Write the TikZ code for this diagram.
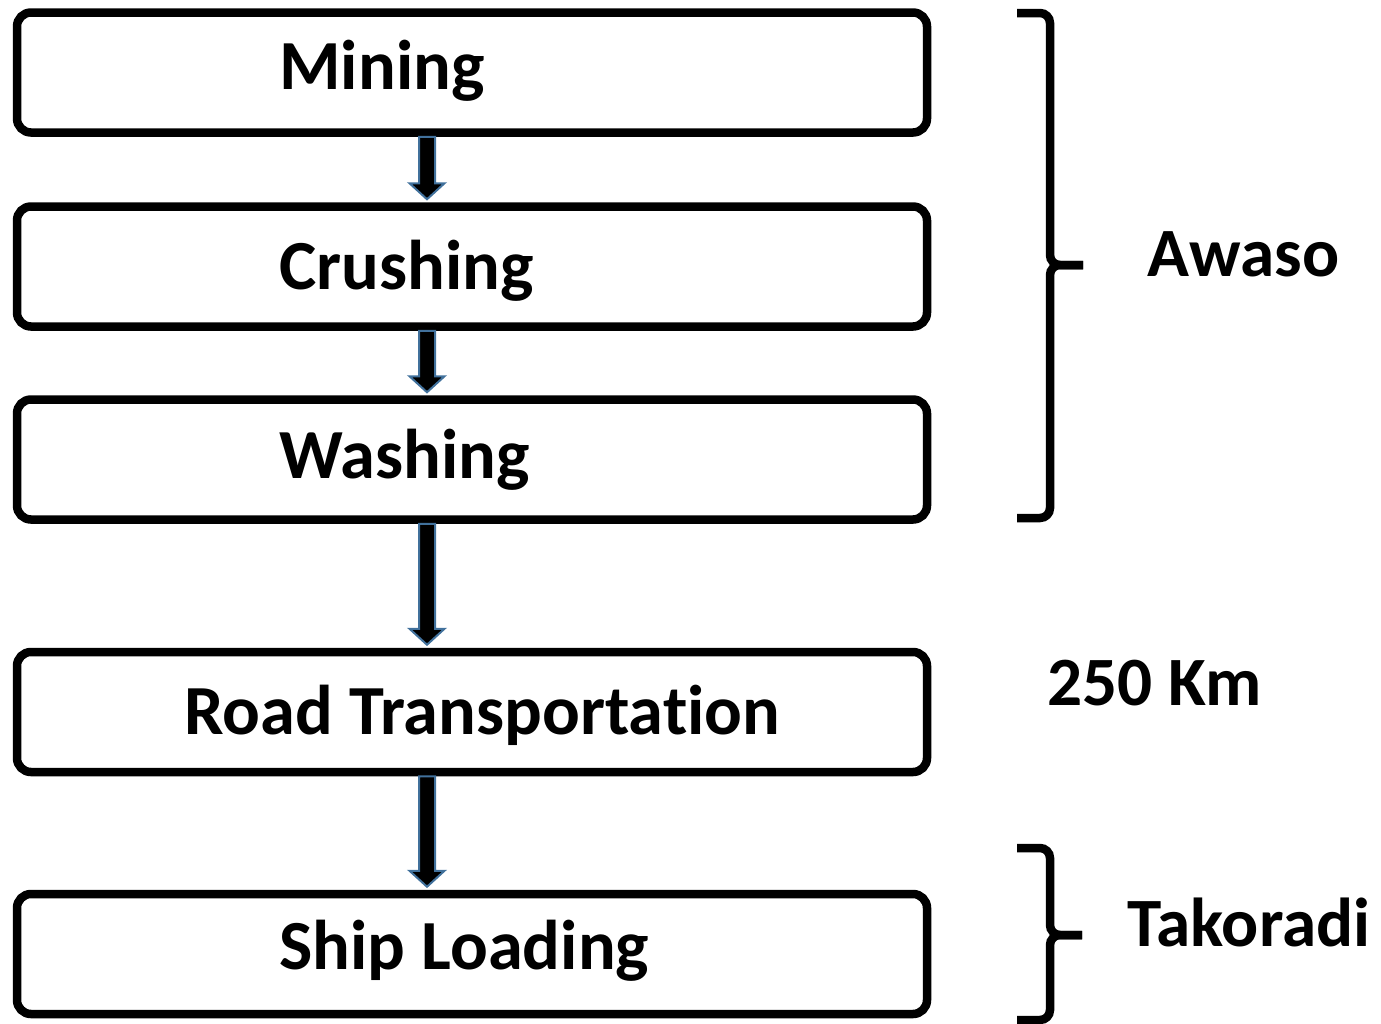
\documentclass[tikz,border=0pt]{standalone}
\usepackage{fontspec}
\setmainfont{Carlito}[Ligatures=NoCommon]
\usetikzlibrary{calc}
\definecolor{arrowblue}{HTML}{41719C}

% block arrow from the bottom of one box to the top of the next
\newcommand{\stagearrow}[2]{%
  \path (axis |- #1.south) coordinate (arrfrom) (axis |- #2.north) coordinate (arrto);
  \draw[flowarrow] let \p1=(arrfrom), \p2=(arrto) in
    (\x1-4pt,\y1) -- (\x1+4pt,\y1) -- (\x1+4pt,\y2+9.5pt) -- (\x1+8.75pt,\y2+9.5pt)
    -- (\x1,\y2+1.5pt) -- (\x1-8.75pt,\y2+9.5pt) -- (\x1-4pt,\y2+9.5pt) -- cycle;}

\begin{document}
\begin{tikzpicture}[x=0.5pt,y=-0.5pt,
    stagebox/.style={draw,line width=4.25pt,rounded corners=7pt,minimum width=455pt,minimum height=60pt,inner sep=0pt},
    stagetext/.style={anchor=base west,inner sep=0pt,font=\fontsize{35.2pt}{40pt}\selectfont\bfseries},
    sitetext/.style={anchor=base west,inner sep=0pt,font=\fontsize{34.6pt}{40pt}\selectfont\bfseries},
    flowarrow/.style={draw=arrowblue,fill=black,line width=1pt,line join=miter},
    bracket/.style={line width=4.25pt,rounded corners=5pt}]
    \useasboundingbox (0,0) rectangle (1381,1023);

    % Draw process boxes
    \node[stagebox] (mining) at (472,72.5) {};
    \node[stagebox] (crushing) at (472,266.5) {};
    \node[stagebox] (washing) at (472,459.5) {};
    \node[stagebox] (road) at (472,712) {};
    \node[stagebox] (ship) at (472,954) {};

    % Draw box labels
    \node[stagetext] (miningtext) at (279,89) {Mining};
    \node[stagetext] (crushingtext) at (279,289) {Crushing};
    \node[stagetext] (washingtext) at (279,478) {Washing};
    \node[stagetext] (roadtext) at (184,734) {Road Transportation};
    \node[stagetext] (shiptext) at (279,969) {Ship Loading};

    % Draw arrows
    \coordinate (axis) at (427,0);
    \stagearrow{mining}{crushing}
    \stagearrow{crushing}{washing}
    \stagearrow{washing}{road}
    \stagearrow{road}{ship}

    % Draw brackets
    \draw[bracket] (1017,13) -- (1050,13) -- (1050,265) -- (1083,265);
    \draw[bracket] (1083,265) -- (1050,265) -- (1050,518) -- (1017,518);
    \draw[bracket] (1017,848) -- (1050,848) -- (1050,935) -- (1082,935);
    \draw[bracket] (1082,935) -- (1050,935) -- (1050,1020) -- (1017,1020);

    % Draw site labels
    \node[sitetext] (awaso) at (1147,276) {Awaso};
    \node[sitetext] (distance) at (1047,705) {250 Km};
    \node[sitetext] (takoradi) at (1127,946) {Takoradi};
\end{tikzpicture}
\end{document}
